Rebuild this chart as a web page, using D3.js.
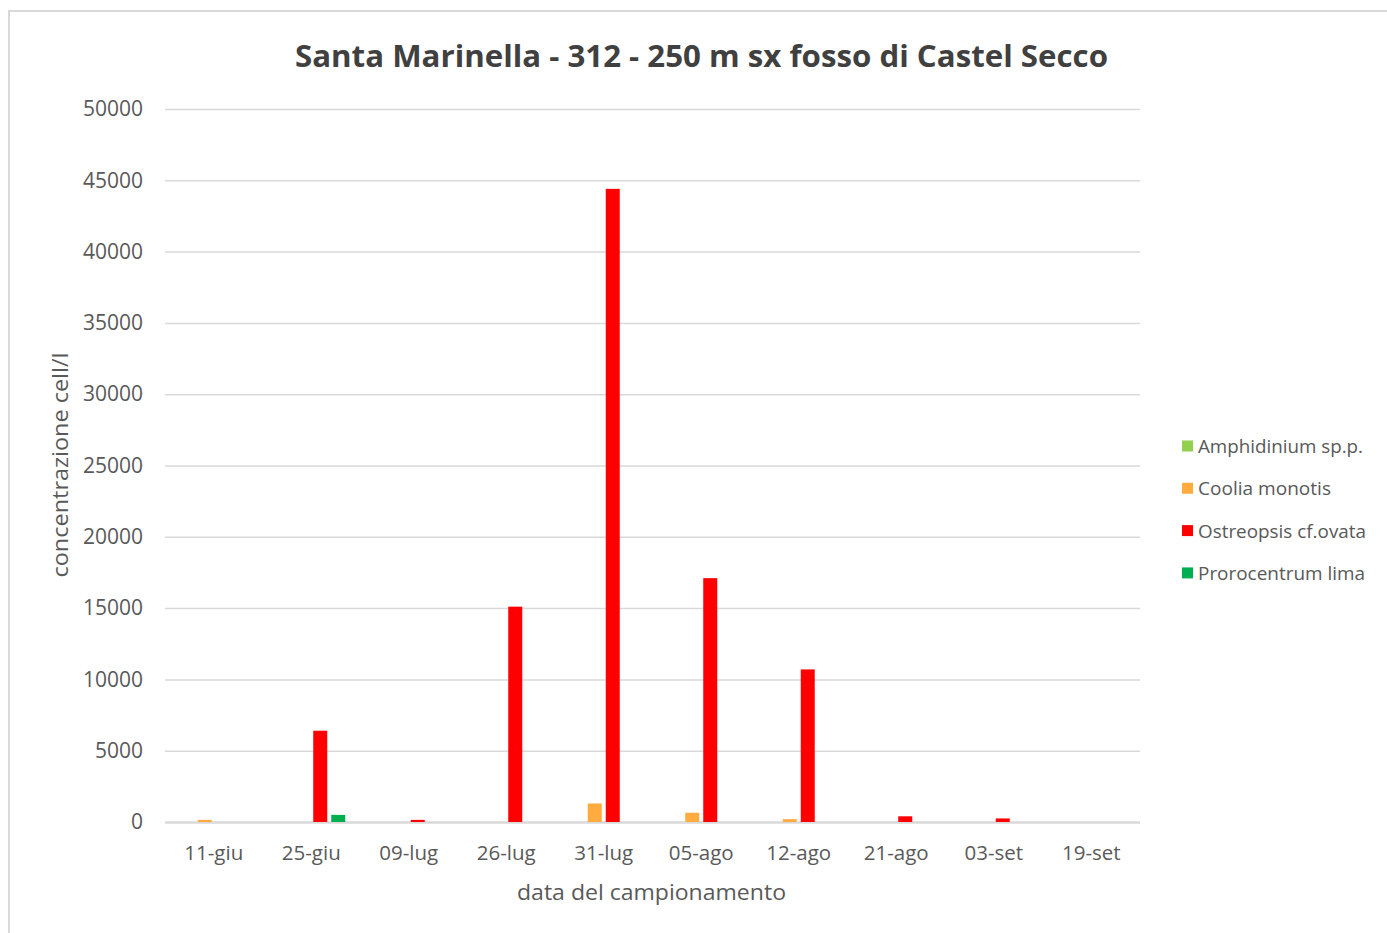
<!DOCTYPE html>
<html><head><meta charset="utf-8">
<script src="https://cdn.jsdelivr.net/npm/d3@7"></script>
<style>body{margin:0;background:#fff;} svg{display:block;font-family:"Open Sans",sans-serif;}</style>
</head><body>
<svg id="c" width="1387" height="933"></svg>
<script>
const dates = ["11-giu","25-giu","09-lug","26-lug","31-lug","05-ago","12-ago","21-ago","03-set","19-set"];
const seriesNames = ["Amphidinium sp.p.","Coolia monotis","Ostreopsis cf.ovata","Prorocentrum lima"];
const amphidinium = [0,0,0,0,0,0,0,0,0,0];
const coolia      = [150,0,0,0,1300,650,200,0,0,0];
const ostreopsis  = [0,6400,150,15100,44400,17100,10700,400,250,0];
const prorocentrum= [0,500,0,0,0,0,0,0,0,0];
const seriesColors = ["#92D050","#FFAB40","#FF0000","#00B050"];
const yTicks = [0,5000,10000,15000,20000,25000,30000,35000,40000,45000,50000];

const values = [amphidinium, coolia, ostreopsis, prorocentrum];
const svg = d3.select("#c");
const L=165, R=1140, T=109, B=822;

// frame
svg.append("rect").attr("x",9).attr("y",11).attr("width",1400).attr("height",950)
  .attr("fill","none").attr("stroke","#d9d9d9").attr("stroke-width",2);

const x0 = d3.scaleBand().domain(dates).range([L,R]).padding(0);
const x1 = d3.scaleBand().domain(seriesNames).range([0,x0.bandwidth()]).paddingInner(4/18).paddingOuter(0.82);
const y = d3.scaleLinear().domain([0,50000]).range([B,T]);

// gridlines
const yAxis = d3.axisLeft(y).tickValues(yTicks).tickSize(-(R-L)).tickFormat(d=>d);
const ga = svg.append("g").attr("transform",`translate(${L},0)`).call(yAxis);
ga.select(".domain").remove();
ga.selectAll(".tick line").attr("stroke","#d9d9d9").attr("stroke-width",1.5);
ga.selectAll(".tick text").attr("x",-22).attr("fill","#595959").style("font-size","21px").style("font-family","Open Sans");
ga.selectAll(".tick").filter(d=>d===0).select("line").attr("stroke-width",2.5);

// bars
const groups = svg.append("g").selectAll("g").data(dates).join("g")
  .attr("transform",d=>`translate(${x0(d)},0)`);
groups.selectAll("rect").data((d,i)=>seriesNames.map((s,j)=>({s,j,v:values[j][i]})).filter(e=>e.v>0))
  .join("rect")
  .attr("x",e=>x1(e.s)).attr("width",x1.bandwidth())
  .attr("y",e=>y(e.v)).attr("height",e=>B-y(e.v))
  .attr("fill",e=>seriesColors[e.j]);

// x axis labels
const xAxis = d3.axisBottom(x0).tickSize(0).tickPadding(0);
const gx = svg.append("g").attr("transform",`translate(0,${B})`).call(xAxis);
gx.select(".domain").remove();
gx.selectAll(".tick text").attr("y",38).attr("dy",0).attr("fill","#595959").style("font-size","20.5px").style("font-family","Open Sans");

// title
svg.append("text").attr("x",701.5).attr("y",67).attr("text-anchor","middle")
  .attr("fill","#404040").style("font-size","30px").style("font-weight","bold")
  .attr("textLength",813).attr("lengthAdjust","spacingAndGlyphs")
  .text("Santa Marinella - 312 - 250 m sx fosso di Castel Secco");

// axis titles
svg.append("text").attr("x",651.5).attr("y",900).attr("text-anchor","middle")
  .attr("fill","#595959").style("font-size","21px")
  .attr("textLength",269).attr("lengthAdjust","spacingAndGlyphs")
  .text("data del campionamento");
svg.append("text").attr("transform","translate(68,465) rotate(-90)").attr("text-anchor","middle")
  .attr("fill","#595959").style("font-size","21px")
  .attr("textLength",225).attr("lengthAdjust","spacingAndGlyphs")
  .text("concentrazione cell/l");

// legend
const legW = [165,133,168,167];
const lg = svg.append("g").selectAll("g").data(seriesNames).join("g")
  .attr("transform",(d,i)=>`translate(1182,${446+i*42.3})`);
lg.append("rect").attr("x",0).attr("y",-5.5).attr("width",11).attr("height",11)
  .attr("fill",(d,i)=>seriesColors[i]);
lg.append("text").attr("x",16).attr("y",7).attr("fill","#595959").style("font-size","18px")
  .attr("textLength",(d,i)=>legW[i]).attr("lengthAdjust","spacingAndGlyphs")
  .text(d=>d);
</script>
</body></html>
